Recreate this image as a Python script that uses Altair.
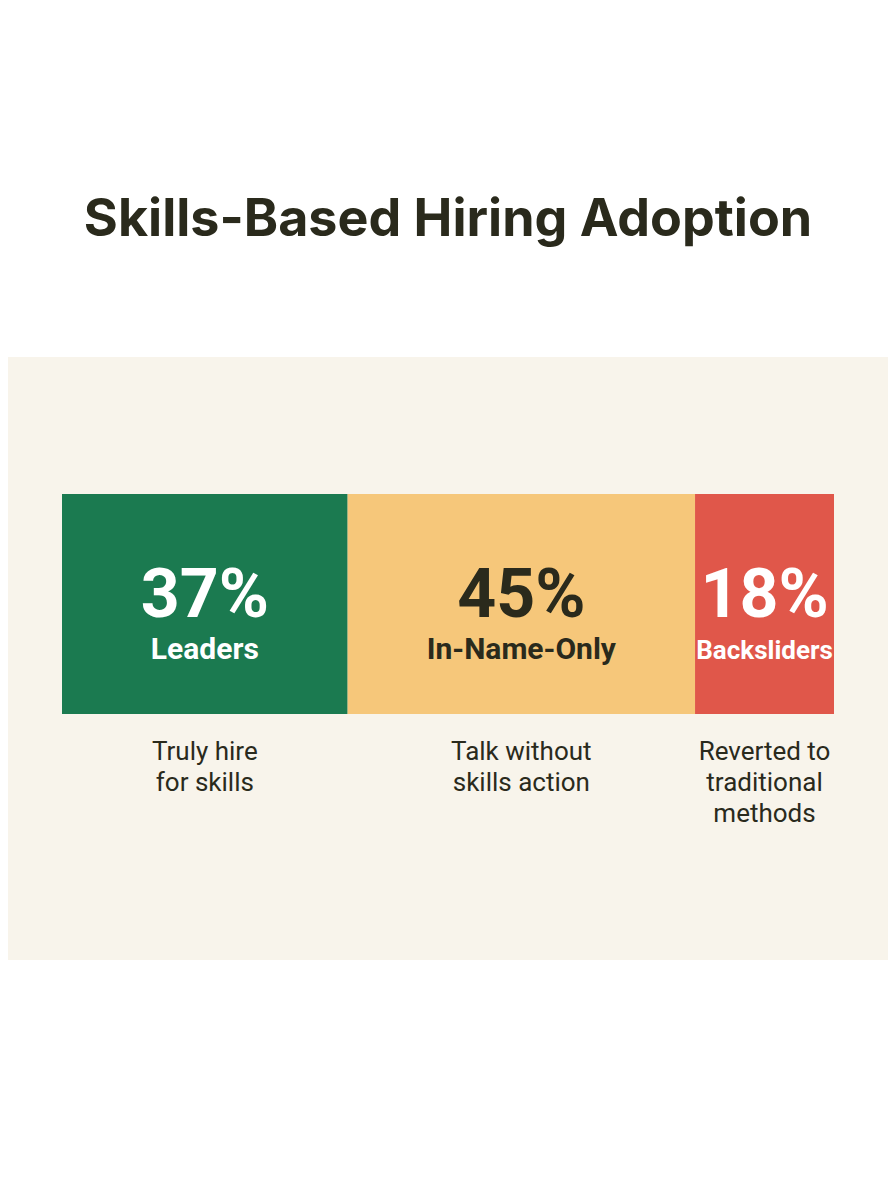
import altair as alt
import pandas as pd

# ---- data ----
categories = ["Leaders", "In-Name-Only", "Backsliders"]
values = [37, 45, 18]
descriptions = ["Truly hire\nfor skills", "Talk without\nskills action", "Reverted to\ntraditional\nmethods"]
order = [1, 2, 3]
title_text = ["Skills-Based Hiring Adoption"]

seg_colors = ["#1b7a50", "#f6c77a", "#e0574a"]
pct_colors = ["#ffffff", "#2a2a1c", "#ffffff"]
label_colors = ["#ffffff", "#2a2a1c", "#ffffff"]

df = pd.DataFrame({
    "category": categories,
    "value": values,
    "desc": descriptions,
    "order": order,
})

CREAM = "#f8f4eb"
DARK = "#2a2a1c"

base = alt.Chart(df).transform_window(
    cum="sum(value)", sort=[alt.SortField("order")]
).transform_calculate(
    start="datum.cum - datum.value",
    mid="datum.cum - datum.value / 2",
    pct="datum.value + '%'",
)

xscale = alt.Scale(domain=[0, 100], nice=False, zero=False)

band = alt.Chart(pd.DataFrame({"k": [0]})).mark_rect(color=CREAM).encode(
    x=alt.value(-54), x2=alt.value(826), y=alt.value(-137), y2=alt.value(466)
)

title = alt.Chart(pd.DataFrame({"t": title_text})).mark_text(
    font="Inter", fontWeight="bold", fontSize=52, color=DARK,
    align="center", baseline="alphabetic"
).encode(x=alt.value(386), y=alt.value(-258), text="t:N")

bars = base.mark_rect(stroke=None).encode(
    x=alt.X("start:Q", scale=xscale, axis=None),
    x2="cum:Q",
    color=alt.Color("category:N", scale=alt.Scale(domain=categories, range=seg_colors), legend=None),
)

pct_text = base.mark_text(
    font="Roboto", fontWeight="bold", fontSize=68, baseline="alphabetic", align="center", dy=13
).encode(
    x=alt.X("mid:Q", scale=xscale, axis=None),
    text="pct:N",
    color=alt.Color("category:N", scale=alt.Scale(domain=categories, range=pct_colors), legend=None),
)

label_text = base.mark_text(
    font="Roboto", fontWeight="bold", baseline="alphabetic", align="center", dy=55
).encode(
    x=alt.X("mid:Q", scale=xscale, axis=None),
    text="category:N",
    size=alt.condition(alt.datum.category == "Backsliders", alt.value(26), alt.value(30)),
    color=alt.Color("category:N", scale=alt.Scale(domain=categories, range=label_colors), legend=None),
)

desc_text = base.mark_text(
    font="Roboto", fontSize=26, baseline="alphabetic", align="center", dy=156,
    lineBreak="\n", lineHeight=31, color=DARK
).encode(
    x=alt.X("mid:Q", scale=xscale, axis=None),
    text="desc:N",
)

chart = alt.layer(band, title, bars, pct_text, label_text, desc_text).resolve_scale(
    color="independent"
).properties(
    width=772,
    height=220,
    padding={"left": 54, "top": 486, "right": 54, "bottom": 470},
    autosize=alt.AutoSizeParams(type="none"),
    background="#ffffff",
).configure_view(stroke=None)

chart.save("out.html", embed_options={"renderer": "svg", "actions": False})
